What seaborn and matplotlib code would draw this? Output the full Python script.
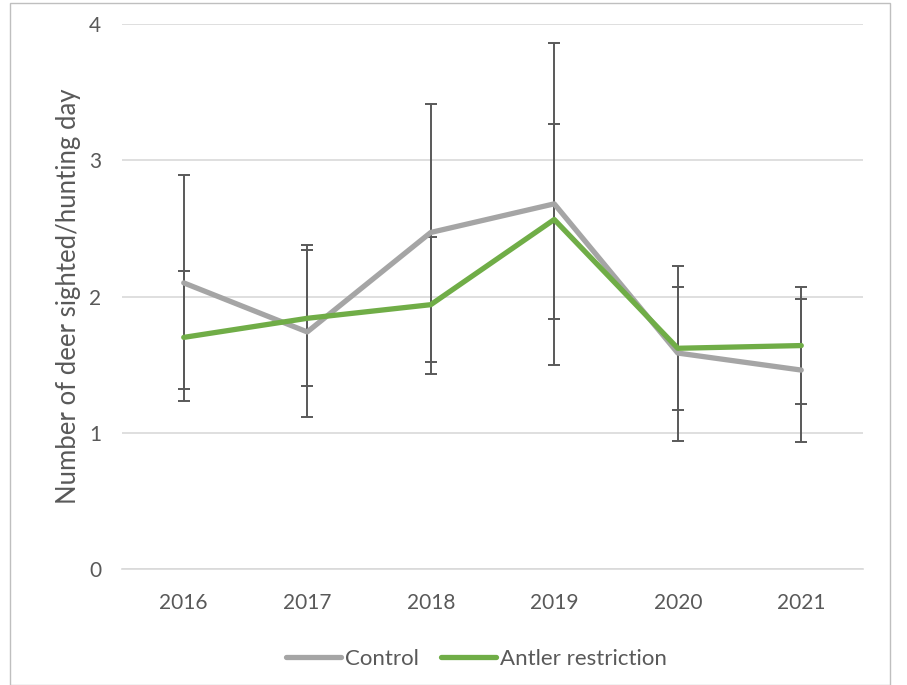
"""Deer sightings per hunting day: control vs antler restriction."""

import matplotlib

matplotlib.use("Agg")

import matplotlib.pyplot as plt
import numpy as np
import pandas as pd
import seaborn as sns
from matplotlib.patches import Rectangle

years = ["2016", "2017", "2018", "2019", "2020", "2021"]
control = [2.10, 1.74, 2.47, 2.68, 1.585, 1.46]
control_hi = [2.89, 2.38, 3.41, 3.86, 2.225, 1.98]
control_lo = [1.32, 1.115, 1.52, 1.495, 0.94, 0.93]
antler = [1.70, 1.84, 1.94, 2.565, 1.62, 1.64]
antler_hi = [2.19, 2.34, 2.44, 3.265, 2.07, 2.07]
antler_lo = [1.23, 1.34, 1.43, 1.835, 1.165, 1.21]

series_names = ["Control", "Antler restriction"]
colors = {"Control": "#A5A5A5", "Antler restriction": "#70AD47"}
text_color = "#595959"

sns.set_theme(style="white")
plt.rcParams["font.family"] = ["Lato", "DejaVu Sans"]

df = pd.DataFrame(
    {
        "year": years * 2,
        "pos": list(range(len(years))) * 2,
        "value": control + antler,
        "series": ["Control"] * len(years) + ["Antler restriction"] * len(years),
    }
)

fig = plt.figure(figsize=(9.07, 6.85), dpi=100)
ax = fig.add_axes([0.1345, 0.1693, 0.817, 0.7957])

# error bars (drawn under the lines)
pos = np.arange(len(years))
for vals, lo, hi in [(control, control_lo, control_hi), (antler, antler_lo, antler_hi)]:
    vals = np.array(vals)
    yerr = [vals - np.array(lo), np.array(hi) - vals]
    ax.errorbar(
        pos, vals, yerr=yerr, fmt="none", ecolor=text_color,
        elinewidth=1.4, capsize=4.5, capthick=1.4, zorder=2,
    )

sns.lineplot(
    data=df, x="pos", y="value", hue="series", hue_order=series_names,
    palette=colors, linewidth=3.8, ax=ax, errorbar=None, zorder=3,
    solid_capstyle="round",
)

ax.set_xlim(-0.5, len(years) - 0.5)
ax.set_ylim(0, 4)
ax.set_yticks([0, 1, 2, 3, 4])
ax.set_xticks(pos)
ax.set_xticklabels(years)
ax.set_xticks(np.arange(-0.5, len(years), 1.0), minor=True)
ax.tick_params(axis="x", which="major", length=0, pad=17, labelsize=15, labelcolor=text_color)
ax.tick_params(axis="x", which="minor", length=7, width=1, color="#D9D9D9", direction="out")
ax.tick_params(axis="y", length=0, pad=15, labelsize=15, labelcolor=text_color)
ax.grid(axis="y", color="#D9D9D9", linewidth=1.2)
ax.set_axisbelow(True)
for side in ["top", "right", "left"]:
    ax.spines[side].set_visible(False)
ax.spines["bottom"].set_color("#D9D9D9")
ax.spines["bottom"].set_linewidth(1.2)

ax.set_xlabel("")
ax.set_ylabel("Number of deer sighted/hunting day", fontsize=18.5, color=text_color, labelpad=6)

handles, labels = ax.get_legend_handles_labels()
ax.legend(
    handles, labels, loc="upper center", bbox_to_anchor=(0.478, -0.11), ncol=2,
    frameon=False, fontsize=16, labelcolor=text_color, handlelength=2.5,
    handletextpad=0.15, columnspacing=1.0,
)

fig.patches.append(
    Rectangle((10 / 907, 0), 880 / 907, 682 / 685, transform=fig.transFigure,
              fill=False, edgecolor="#BFBFBF", linewidth=1.0)
)

fig.savefig("out.png", dpi=100)
